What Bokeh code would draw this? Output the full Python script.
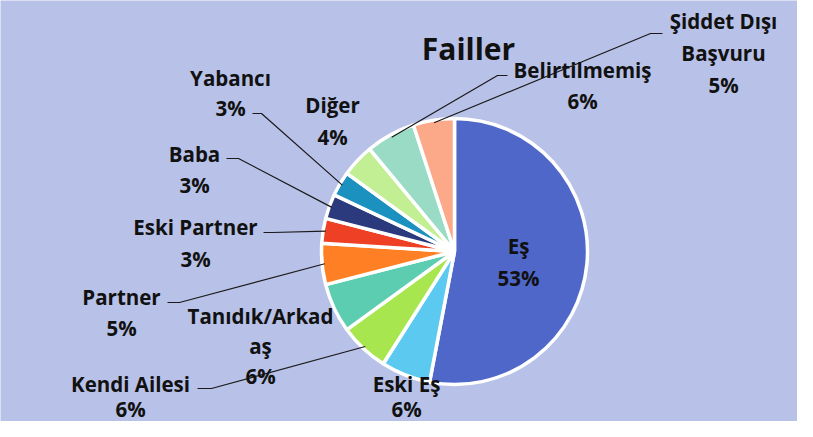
import math
from bokeh.plotting import figure
from bokeh.models import Range1d, ColumnDataSource
from bokeh.core.properties import value
from bokeh.embed import file_html
from bokeh.resources import INLINE

# ---- data ----
categories = ["Eş", "Eski Eş", "Kendi Ailesi", "Tanıdık/Arkadaş", "Partner",
              "Eski Partner", "Baba", "Yabancı", "Diğer", "Belirtilmemiş",
              "Şiddet Dışı Başvuru"]
percentages = [53, 6, 6, 6, 5, 3, 3, 3, 4, 6, 5]
colors = ["#4F67C9", "#5CC9F0", "#A8E650", "#5CCDB0", "#FF8024", "#EE4025",
          "#2B3A7D", "#1A91BE", "#C2EE94", "#9ADBC6", "#FCA98A"]
title_text = "Failler"

# how category names wrap in the labels
label_wrap = {"Tanıdık/Arkadaş": ["Tanıdık/Arkad", "aş"],
              "Şiddet Dışı Başvuru": ["Şiddet Dışı", "Başvuru"]}

# ---- layout (pixel coordinates, y measured downward) ----
W, H = 797, 421
X0, Y0 = 0, 0
CX, CY, R = 454, 251, 133
BG = "#B8C1E7"
FONT = "Open Sans"

label_pos = {  # center x, y of first line, line gap
    "Eş": (518, 245, 32),
    "Eski Eş": (406, 383, 25),
    "Kendi Ailesi": (130, 383, 25),
    "Tanıdık/Arkadaş": (260, 315, 30),
    "Partner": (121, 296, 31),
    "Eski Partner": (195, 226, 32),
    "Baba": (194, 153, 31),
    "Yabancı": (230, 77, 30),
    "Diğer": (332, 104, 32),
    "Belirtilmemiş": (582, 69, 31),
    "Şiddet Dışı Başvuru": (723, 20, 32),
}
leader_start = {  # stub near label (start, elbow)
    "Kendi Ailesi": [(197, 388), (211, 388)],
    "Partner": [(167, 302), (179, 302)],
    "Eski Partner": [(263, 232), (272, 232)],
    "Baba": [(226, 158), (238, 158)],
    "Yabancı": [(252, 113), (261, 113)],
    "Belirtilmemiş": [(507, 75), (497, 75)],
    "Şiddet Dışı Başvuru": [(662, 33), (650, 33)],
}


def fy(py):
    return 437 - py


p = figure(width=W, height=H, output_backend="svg", toolbar_location=None,
           x_range=Range1d(X0, X0 + W), y_range=Range1d(fy(Y0 + H), fy(Y0)),
           min_border=0, background_fill_color=BG, border_fill_color=BG,
           outline_line_color=None)
p.axis.visible = False
p.grid.visible = False

total = sum(percentages)
starts, ends, mids = [], [], []
cum = 0
for v in percentages:
    a0 = cum / total
    cum += v
    a1 = cum / total
    # clockwise from 12 o'clock -> bokeh anticlockwise angles
    starts.append(math.pi / 2 - a1 * 2 * math.pi)
    ends.append(math.pi / 2 - a0 * 2 * math.pi)
    mids.append((a0 + a1) / 2)

src = ColumnDataSource(dict(start=starts, end=ends, color=colors, cat=categories))
p.wedge(x=CX, y=fy(CY), radius=R, start_angle="start", end_angle="end",
        fill_color="color", line_color="white", line_width=3.5, source=src)

# leader lines
for cat, m in zip(categories, mids):
    if cat not in leader_start:
        continue
    ang = m * 2 * math.pi
    ex = CX + R * 0.98 * math.sin(ang)
    ey = CY - R * 0.98 * math.cos(ang)
    pts = leader_start[cat] + [(ex, ey)]
    p.line([q[0] for q in pts], [fy(q[1]) for q in pts], line_color="#1a1a1a",
           line_width=1.2)

# labels
xs, ys, ts = [], [], []
for cat, v in zip(categories, percentages):
    lines = label_wrap.get(cat, [cat]) + [f"{v}%"]
    lx, ly, gap = label_pos[cat]
    for i, t in enumerate(lines):
        xs.append(lx)
        ys.append(fy(ly + i * gap))
        ts.append(t)
p.text(x=xs, y=ys, text=ts, text_align="center", text_baseline="middle",
       text_font=value(FONT), text_font_style="bold", text_font_size="20.5px",
       text_color="#111111")

p.text(x=[468], y=[fy(48)], text=[title_text], text_align="center",
       text_baseline="middle", text_font=value(FONT), text_font_style="bold",
       text_font_size="30px", text_color="#111111")

open("out.html", "w").write(file_html(p, INLINE))
